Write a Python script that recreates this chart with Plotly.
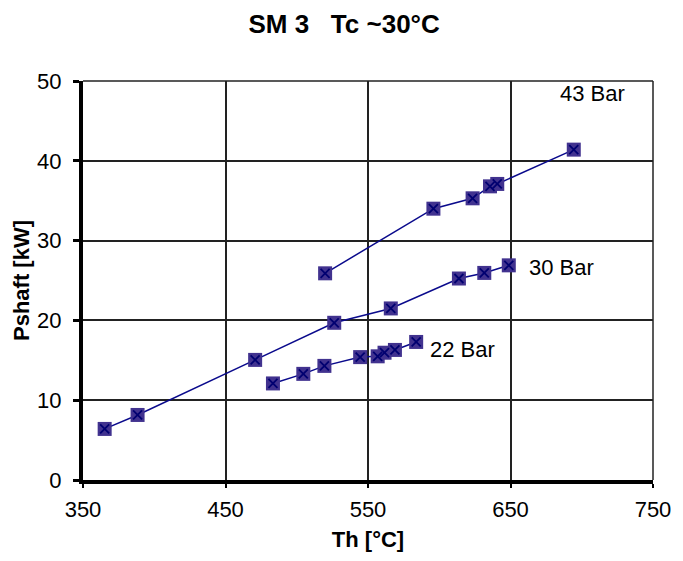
import plotly.graph_objects as go

# ---- data ----
th_43 = [519.9, 595.9, 623.4, 635.6, 640.7, 694.4]
p_43 = [25.9, 34.0, 35.3, 36.8, 37.1, 41.4]

th_30 = [365.2, 388.3, 470.8, 526.3, 566.0, 613.8, 631.6, 648.8]
p_30 = [6.4, 8.15, 15.05, 19.7, 21.5, 25.25, 25.95, 26.9]

th_22 = [483.3, 504.6, 519.4, 544.5, 556.8, 561.6, 568.9, 583.8]
p_22 = [12.1, 13.3, 14.3, 15.4, 15.5, 15.95, 16.3, 17.3]

series_labels = ["43 Bar", "30 Bar", "22 Bar"]
label_pos_x = [683.0, 661.6, 591.8]
label_pos_y = [48.4, 26.6, 16.4]

x_ticks = [350, 450, 550, 650, 750]
y_ticks = [0, 10, 20, 30, 40, 50]

FONT = "Liberation Sans, Arial, sans-serif"
LINE_COLOR = "#0a0a8c"
FILL_COLOR = "#41328f"
X_COLOR = "#000070"

fig = go.Figure()
for th, p, name in zip([th_43, th_30, th_22], [p_43, p_30, p_22], series_labels):
    # line + filled square markers
    fig.add_trace(go.Scatter(
        x=th, y=p, mode="lines+markers", name=name,
        line=dict(color=LINE_COLOR, width=1.5),
        marker=dict(symbol="square", size=14, color=FILL_COLOR,
                    line=dict(width=0)),
        showlegend=False,
    ))
    # the "x" drawn inside each square
    fig.add_trace(go.Scatter(
        x=th, y=p, mode="markers", name=name,
        marker=dict(symbol="x-thin-open", size=9, color=X_COLOR,
                    line=dict(color=X_COLOR, width=1.8)),
        showlegend=False, hoverinfo="skip",
    ))

for name, lx, ly in zip(series_labels, label_pos_x, label_pos_y):
    fig.add_annotation(x=lx, y=ly, text=name, showarrow=False,
                       xanchor="left", yanchor="middle",
                       font=dict(family=FONT, size=22, color="black"))

fig.update_layout(
    width=675, height=553,
    margin=dict(l=75, r=22, t=73, b=77),
    paper_bgcolor="white", plot_bgcolor="white",
    title=dict(text="SM 3\u00a0\u00a0\u00a0Tc ~30°C", x=0.498, xref="container",
               y=1 - 16 / 553, yref="container", xanchor="center", yanchor="middle",
               font=dict(family=FONT, size=26, color="black", weight="bold")),
    font=dict(family=FONT, size=22, color="black"),
)

fig.update_xaxes(
    range=[350, 750], tickvals=x_ticks, ticktext=[str(v) for v in x_ticks],
    showgrid=True, gridcolor="#222222", gridwidth=1.5,
    showline=True, linecolor="black", linewidth=4,
    ticks="outside", ticklen=4, tickwidth=2, tickcolor="black",
    ticklabelstandoff=3,
    zeroline=False,
    tickfont=dict(family=FONT, size=22, color="black"),
    title=dict(text="Th [°C]", standoff=11,
               font=dict(family=FONT, size=22, color="black", weight="bold")),
)
fig.update_yaxes(
    range=[0, 50], tickvals=y_ticks, ticktext=[str(v) for v in y_ticks],
    showgrid=True, gridcolor="#222222", gridwidth=1.5,
    showline=True, linecolor="black", linewidth=4,
    ticks="outside", ticklen=6, tickwidth=3, tickcolor="black",
    ticklabelstandoff=7,
    zeroline=False,
    tickfont=dict(family=FONT, size=22, color="black"),
    title=dict(text="Pshaft [kW]", standoff=2,
               font=dict(family=FONT, size=22, color="black", weight="bold")),
)

# thin border on top and right like the reference frame
fig.add_shape(type="line", xref="paper", yref="paper", x0=0, x1=1, y0=1, y1=1,
              line=dict(color="#222222", width=1.5))
fig.add_shape(type="line", xref="paper", yref="paper", x0=1, x1=1, y0=0, y1=1,
              line=dict(color="#222222", width=1.5))

fig.write_html("out.html")
